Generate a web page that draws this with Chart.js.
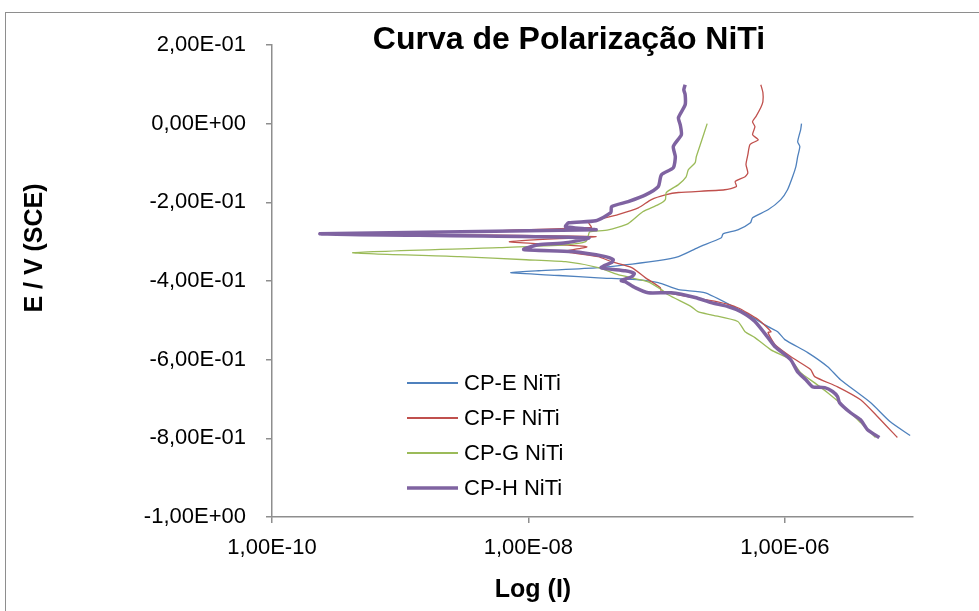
<!DOCTYPE html>
<html>
<head>
<meta charset="utf-8">
<title>Curva de Polarização NiTi</title>
<script src="https://cdn.jsdelivr.net/npm/chart.js@4.4.1/dist/chart.umd.min.js"></script>
<style>
    html, body { margin: 0; padding: 0; background: #fff; }
    #wrap { position: relative; width: 979px; height: 611px; overflow: hidden; }
    #frame { position: absolute; left: 5px; top: 12px; width: 1000px; height: 700px; border: 1px solid #8e8e8e; }
    #chart { position: absolute; left: 0; top: 0; }
</style>
</head>
<body>
<div id="wrap">
    <div id="frame"></div>
    <canvas id="chart" width="979" height="611"></canvas>
</div>
<script>
// Current (A) and potential (V vs SCE), cathodic end first
const cpeCurrent = [9.5e-6, 6.65e-6, 4.66e-6, 2.72e-6, 2.16e-6, 1.51e-6, 1.0e-6, 8.8e-7, 7.4e-7, 4.9e-7, 2.4e-7, 1.48e-7, 1.03e-7, 7.2e-8, 3.5e-8, 1.73e-8, 7.3e-9, 1.2e-8, 3.5e-8, 1.03e-7, 1.48e-7, 2.1e-7, 3.2e-7, 3.3e-7, 4.3e-7, 5.4e-7, 5.6e-7, 7.4e-7, 9.3e-7, 1.05e-6, 1.15e-6, 1.22e-6, 1.26e-6, 1.31e-6, 1.26e-6, 1.33e-6, 1.35e-6];
const cpePotential = [-0.793, -0.758, -0.709, -0.651, -0.618, -0.582, -0.549, -0.529, -0.516, -0.481, -0.430, -0.422, -0.404, -0.397, -0.392, -0.386, -0.379, -0.374, -0.366, -0.348, -0.338, -0.315, -0.290, -0.280, -0.270, -0.252, -0.239, -0.219, -0.193, -0.168, -0.135, -0.109, -0.084, -0.058, -0.046, -0.015, 0.0];

const cpfCurrent = [7.55e-6, 5.3e-6, 3.9e-6, 2.58e-6, 1.71e-6, 1.59e-6, 1.11e-6, 8.4e-7, 7.4e-7, 7.8e-7, 6.2e-7, 4.3e-7, 3.0e-7, 1.09e-7, 1.07e-7, 8.2e-8, 6.4e-8, 4.45e-8, 3.5e-8, 1.95e-8, 2.85e-8, 7.1e-9, 3.35e-8, 1.18e-9, 3.1e-8, 2.95e-8, 3.5e-8, 5.0e-8, 7.2e-8, 9.1e-8, 1.17e-7, 1.48e-7, 3.4e-7, 4.2e-7, 4.1e-7, 4.9e-7, 5.15e-7, 4.98e-7, 5.15e-7, 5.35e-7, 6.2e-7, 5.6e-7, 5.85e-7, 5.6e-7, 5.95e-7, 6.5e-7, 6.75e-7, 6.75e-7, 6.5e-7];
const cpfPotential = [-0.798, -0.745, -0.702, -0.669, -0.643, -0.625, -0.592, -0.562, -0.531, -0.529, -0.498, -0.468, -0.453, -0.427, -0.417, -0.392, -0.366, -0.351, -0.338, -0.325, -0.313, -0.300, -0.287, -0.280, -0.264, -0.252, -0.244, -0.231, -0.214, -0.193, -0.181, -0.175, -0.168, -0.160, -0.147, -0.135, -0.125, -0.104, -0.079, -0.053, -0.041, -0.028, -0.008, 0.005, 0.018, 0.041, 0.056, 0.079, 0.099];

const cpgCurrent = [5.1e-6, 3.9e-6, 2.92e-6, 2.16e-6, 1.71e-6, 1.33e-6, 1.11e-6, 7.8e-7, 5.85e-7, 4.9e-7, 4.3e-7, 2.66e-7, 2.1e-7, 1.86e-7, 1.23e-7, 1.09e-7, 8.6e-8, 5.0e-8, 3.5e-8, 1.95e-8, 9.6e-9, 2.9e-9, 4.26e-10, 5.9e-9, 1.95e-8, 2.8e-8, 2.95e-8, 3.0e-8, 4.2e-8, 6.0e-8, 7.8e-8, 1.03e-7, 1.17e-7, 1.19e-7, 1.48e-7, 1.7e-7, 1.77e-7, 2.0e-7, 2.04e-7, 2.23e-7, 2.48e-7];
const cpgPotential = [-0.798, -0.760, -0.720, -0.684, -0.659, -0.633, -0.600, -0.575, -0.544, -0.529, -0.503, -0.486, -0.478, -0.465, -0.435, -0.422, -0.402, -0.384, -0.366, -0.351, -0.346, -0.338, -0.328, -0.315, -0.308, -0.300, -0.282, -0.275, -0.270, -0.254, -0.224, -0.206, -0.193, -0.175, -0.155, -0.135, -0.117, -0.099, -0.084, -0.046, 0.0];

const cphCurrent = [5.47e-6, 4.42e-6, 3.9e-6, 3.26e-6, 2.67e-6, 2.58e-6, 2.36e-6, 2.05e-6, 1.65e-6, 1.46e-6, 1.26e-6, 1.11e-6, 8.4e-7, 7.6e-7, 5.85e-7, 4.55e-7, 3.6e-7, 2.66e-7, 2.0e-7, 1.3e-7, 8.6e-8, 6.8e-8, 5.7e-8, 5.3e-8, 6.4e-8, 6.7e-8, 5.7e-8, 3.7e-8, 4.45e-8, 4.6e-8, 4.0e-8, 2.18e-8, 9.2e-9, 1.2e-8, 1.95e-8, 2.95e-8, 2.36e-10, 3.35e-8, 1.95e-8, 2.06e-8, 3.35e-8, 4.4e-8, 4.45e-8, 6.0e-8, 8.2e-8, 1.03e-7, 1.09e-7, 1.35e-7, 1.4e-7, 1.35e-7, 1.56e-7, 1.53e-7, 1.48e-7, 1.67e-7, 1.67e-7, 1.63e-7, 1.67e-7];
const cphPotential = [-0.798, -0.778, -0.753, -0.735, -0.709, -0.694, -0.681, -0.671, -0.669, -0.651, -0.631, -0.600, -0.567, -0.549, -0.503, -0.478, -0.465, -0.455, -0.442, -0.430, -0.430, -0.417, -0.402, -0.399, -0.389, -0.381, -0.374, -0.366, -0.353, -0.346, -0.338, -0.325, -0.320, -0.308, -0.303, -0.290, -0.280, -0.270, -0.262, -0.252, -0.247, -0.226, -0.211, -0.198, -0.181, -0.160, -0.130, -0.112, -0.084, -0.058, -0.028, -0.003, 0.015, 0.048, 0.074, 0.086, 0.099];

const seriesNames = ['CP-E NiTi', 'CP-F NiTi', 'CP-G NiTi', 'CP-H NiTi'];
const seriesColors = ['#4f81bd', '#c0504d', '#9bbb59', '#7f63a1'];
const seriesWidths = [1.3, 1.3, 1.3, 3.5];
const xTickValues = [1e-10, 1e-8, 1e-6];

const axisColor = '#8e8e8e';
const fontFamily = '"Liberation Sans", Arial, sans-serif';

function toPoints(xs, ys) {
    return xs.map((x, i) => ({ x: x, y: ys[i] }));
}

// Excel style "1,00E-08"
function sciLabel(v) {
    if (Math.abs(v) < 1e-12) v = 0;
    const s = Number(v).toExponential(2);
    const parts = s.split('e');
    const mant = parts[0].replace('.', ',');
    const exp = parseInt(parts[1], 10);
    const expStr = (exp < 0 ? '-' : '+') + String(Math.abs(exp)).padStart(2, '0');
    return mant + 'E' + expStr;
}

const textPlugin = {
    id: 'textPlugin',
    afterDraw(chart) {
        const ctx = chart.ctx;
        ctx.save();
        ctx.fillStyle = '#000';
        ctx.textAlign = 'center';
        ctx.textBaseline = 'middle';

        ctx.font = 'bold 32px ' + fontFamily;
        ctx.fillText('Curva de Polarização NiTi', 569, 40);

        ctx.font = 'bold 25px ' + fontFamily;
        ctx.fillText('Log (I)', 533, 590);

        ctx.save();
        ctx.translate(35, 248);
        ctx.rotate(-Math.PI / 2);
        ctx.fillText('E / V (SCE)', 0, 0);
        ctx.restore();

        // legend inside the plot
        ctx.font = '22px ' + fontFamily;
        ctx.textAlign = 'left';
        chart.data.datasets.forEach((ds, i) => {
            const y = 383 + i * 35;
            ctx.strokeStyle = ds.borderColor;
            ctx.lineWidth = i === 3 ? 3.5 : 2;
            ctx.beginPath();
            ctx.moveTo(407, y);
            ctx.lineTo(458, y);
            ctx.stroke();
            ctx.fillText(ds.label, 464, y + 1);
        });
        ctx.restore();
    }
};

const datasets = [
    toPoints(cpeCurrent, cpePotential),
    toPoints(cpfCurrent, cpfPotential),
    toPoints(cpgCurrent, cpgPotential),
    toPoints(cphCurrent, cphPotential)
].map((pts, i) => ({
    label: seriesNames[i],
    data: pts,
    showLine: true,
    borderColor: seriesColors[i],
    backgroundColor: seriesColors[i],
    borderWidth: seriesWidths[i],
    pointRadius: 0,
    tension: 0.2,
    order: 3 - i
}));

new Chart(document.getElementById('chart'), {
    type: 'scatter',
    data: { datasets: datasets },
    options: {
        responsive: false,
        animation: false,
        layout: { padding: { left: 0, top: 45, right: 66, bottom: 0 } },
        plugins: {
            legend: { display: false },
            title: { display: false },
            tooltip: { enabled: false }
        },
        scales: {
            x: {
                type: 'logarithmic',
                min: 1e-10,
                max: 1e-5,
                afterFit: s => { s.height = 94; },
                afterBuildTicks: s => { s.ticks = xTickValues.map(v => ({ value: v })); },
                grid: { drawOnChartArea: false, drawTicks: true, tickLength: 6, color: axisColor, lineWidth: 1.5 },
                border: { display: true, color: axisColor, width: 1.5 },
                ticks: {
                    autoSkip: false,
                    maxRotation: 0,
                    padding: 12,
                    color: '#000',
                    font: { family: fontFamily, size: 22 },
                    callback: v => sciLabel(v)
                }
            },
            y: {
                type: 'linear',
                min: -1,
                max: 0.2,
                afterFit: s => { s.width = 272; },
                grid: { drawOnChartArea: false, drawTicks: true, tickLength: 6, color: axisColor, lineWidth: 1.5 },
                border: { display: true, color: axisColor, width: 1.5 },
                ticks: {
                    stepSize: 0.2,
                    padding: 20,
                    color: '#000',
                    font: { family: fontFamily, size: 22 },
                    callback: v => sciLabel(v)
                }
            }
        }
    },
    plugins: [textPlugin]
});
</script>
</body>
</html>
